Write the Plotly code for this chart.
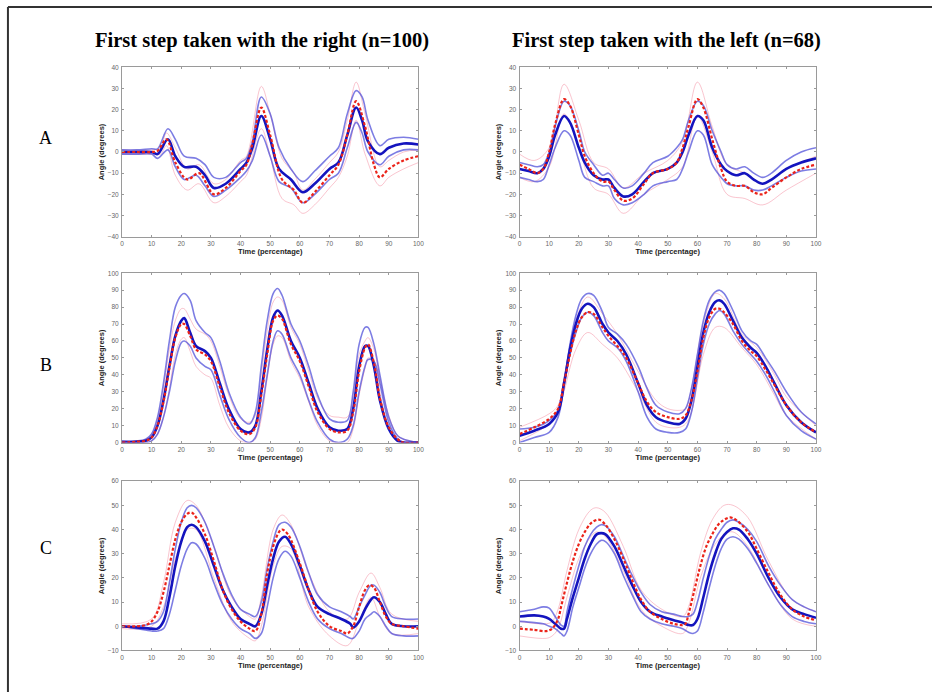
import plotly.graph_objects as go

# ---------------- DATA ----------------
col_titles = ["First step taken with the right (n=100)", "First step taken with the left (n=68)"]
row_labels = ["A", "B", "C"]
x_ticks = [0, 10, 20, 30, 40, 50, 60, 70, 80, 90, 100]
y_ranges = {"A": [-40, 40], "B": [0, 100], "C": [-10, 60]}

# Panel A, right-foot first
AR_x = [0, 5, 10, 12, 15.5, 18, 21, 25, 28, 31, 35, 40, 42, 44, 47, 50, 53, 57, 61, 65, 70, 73, 76, 79, 81, 83, 87, 90, 95, 100]
AR_blue_mean = [0, 0, 0, -1, 6, -2, -7, -7, -11, -17, -15, -8, -5, 2, 17, 6, -8, -13, -19, -15, -8, -5, 8, 21, 15, 5, -1, 2, 4, 3.5]
AR_blue_up = [1, 1, 1.5, 1.5, 11, 6, -2, -3, -6, -12, -12, -5, -3, 5, 26, 18, 2, -8, -14, -9, -2, 2, 18, 29, 26, 15, 3, 6, 7, 6]
AR_blue_lo = [-1, -1, -1, -3, 1, -7, -13, -11, -16, -21, -18, -12, -9, -4, 8, -2, -14, -17, -24, -20, -13, -10, 2, 14, 9, 0, -6, -2, 1, 1]
AR_red_x = [0, 5, 10, 12, 15, 18, 22, 26, 31, 35, 40, 42, 44, 47, 50, 54, 58, 61, 65, 70, 73, 76, 79, 82, 85, 87, 90, 95, 100]
AR_red_mean = [0, 0, 0, 0.5, 6, -5, -13, -10, -20, -17, -9, -6, 4, 21, 8, -13, -18, -24, -19, -11, -6, 8, 24, 12, -6, -12, -8, -4, -2]
AR_pink_x = [0, 10, 13, 15, 18, 22, 26, 31, 35, 40, 42, 47, 50, 54, 58, 61, 65, 70, 73, 76, 79, 82, 87, 90, 95, 100]
AR_red_up = [1, 1, 2, 9, 2, -8, -6, -15, -13, -4, -2, 31, 18, -3, -10, -18, -13, -5, 0, 15, 33, 18, -7, -4, 0, 1]
AR_red_lo = [-1, -1, -1, 3, -11, -18, -15, -24, -21, -14, -11, 11, -2, -22, -25, -29, -25, -17, -12, -2, 15, -1, -16, -12, -8, -5]

# Panel A, left-foot first
AL_x = [0, 3, 6, 8, 10, 12, 15, 17, 20, 22, 25, 28, 30, 32, 35, 38, 42, 45, 50, 53, 55, 57, 60, 62, 65, 68, 70, 73, 76, 79, 82, 85, 90, 95, 100]
AL_blue_mean = [-8, -9, -10, -8, -2, 8, 17, 14, 2, -5, -11, -13, -13, -17, -21, -20, -14, -10, -8, -5, 0, 8, 17, 15, 2, -6, -9, -11, -10, -13, -15, -13, -8, -5, -3]
AL_blue_up = [-5, -6, -7, -6, 0, 12, 24, 22, 10, 0, -6, -11, -10, -13, -17, -16, -10, -5, -2, 2, 6, 15, 24, 22, 10, 0, -6, -8, -7, -10, -12, -10, -4, 0, 2]
AL_blue_lo = [-12, -13, -14, -13, -6, 2, 10, 8, -4, -12, -14, -16, -16, -22, -25, -24, -20, -16, -14, -13, -8, 0, 10, 8, -6, -12, -15, -16, -16, -18, -18, -16, -12, -9, -8]
AL_red_x = AL_x
AL_red_mean = [-6, -8, -10, -8, 0, 13, 25, 22, 8, -2, -10, -14, -14, -18, -23, -22, -15, -10, -8, -5, 2, 12, 25, 21, 6, -8, -14, -16, -16, -19, -20, -17, -12, -8, -6]
AL_pink_x = [0, 5, 10, 15, 20, 25, 30, 35, 42, 50, 55, 60, 65, 70, 76, 82, 90, 100]
AL_red_up = [-1, -4, 2, 32, 15, -5, -8, -17, -10, -4, 5, 33, 12, -6, -10, -15, -8, -2]
AL_red_lo = [-12, -14, -7, 18, 2, -17, -20, -29, -20, -13, -7, 17, 0, -20, -22, -25, -18, -10]

# Panel B, right-foot first
BR_x = [0, 5, 8, 10, 12, 14, 16, 18, 20, 21, 23, 25, 28, 30, 33, 36, 40, 43, 45, 47, 49, 51, 52.5, 54, 57, 60, 63, 66, 70, 73, 76, 78, 80, 82, 83, 85, 87, 90, 93, 95, 100]
BR_blue_mean = [0, 0.5, 1, 3, 10, 25, 45, 63, 72, 73.5, 65, 57, 54, 50, 35, 20, 8, 6, 10, 30, 55, 74, 78, 75, 60, 50, 35, 20, 9, 7, 8, 20, 45, 57, 57, 45, 25, 8, 1, 0, 0]
BR_blue_up = [1, 1, 2, 5, 15, 35, 60, 80, 87, 88, 84, 72, 65, 62, 48, 30, 15, 11, 18, 45, 72, 88, 91, 87, 70, 60, 45, 28, 14, 12, 13, 30, 58, 68, 68, 58, 40, 15, 4, 2, 0]
BR_blue_lo = [0, 0, 0, 1, 5, 15, 30, 48, 59, 60, 57, 50, 45, 43, 28, 14, 3, 0, 3, 18, 40, 60, 66, 64, 50, 40, 25, 12, 2, 0, 2, 10, 30, 45, 49, 48, 35, 12, 2, 0, 0]
BR_red_x = BR_x
BR_red_mean = [0, 0.5, 1, 3, 10, 24, 44, 62, 70, 70, 63, 55, 52, 48, 33, 18, 7, 5, 9, 28, 52, 72, 75, 73, 58, 48, 33, 18, 8, 6, 7, 18, 42, 56, 58, 47, 26, 9, 2, 0, 0]
BR_pink_x = BR_x
BR_red_up = [1, 1, 2, 5, 14, 32, 55, 72, 79, 79, 73, 67, 64, 60, 45, 28, 14, 12, 16, 40, 66, 83, 86, 84, 68, 58, 42, 26, 16, 15, 15, 28, 52, 60, 62, 55, 38, 16, 4, 2, 0]
BR_red_lo = [0, 0, 0, 1, 5, 15, 32, 52, 61, 62, 54, 45, 40, 38, 22, 9, 1, 0, 2, 14, 38, 58, 63, 62, 48, 38, 24, 10, 1, 0, 0, 8, 28, 44, 50, 48, 30, 8, 1, 0, 0]

# Panel B, left-foot first
BL_x = [0, 5, 10, 13, 15, 17, 19, 21, 23, 25, 28, 30, 33, 36, 40, 43, 46, 50, 54, 56, 58, 60, 62, 64, 66, 67.5, 69, 72, 75, 78, 80, 83, 86, 90, 95, 100]
BL_blue_mean = [4, 7, 11, 18, 35, 55, 70, 79, 82, 80, 70, 65, 60, 52, 35, 22, 15, 12, 11, 14, 25, 45, 65, 77, 83, 84, 82, 72, 62, 56, 53, 45, 35, 22, 12, 6]
BL_blue_up = [8, 9, 13, 19, 35, 58, 75, 85, 88, 87, 77, 68, 64, 58, 45, 32, 22, 18, 17, 20, 32, 52, 72, 84, 89, 90, 88, 78, 66, 60, 58, 50, 42, 30, 18, 11]
BL_blue_lo = [0, 3, 6, 15, 33, 52, 65, 74, 77, 75, 65, 60, 56, 48, 30, 15, 8, 6, 6, 8, 18, 38, 58, 70, 76, 78, 76, 66, 58, 52, 48, 40, 30, 16, 7, 2]
BL_red_x = BL_x
BL_red_mean = [5, 9, 14, 20, 35, 52, 66, 74, 77, 76, 68, 63, 57, 50, 35, 24, 18, 15, 14, 16, 25, 42, 62, 74, 79, 79, 77, 70, 60, 54, 51, 43, 34, 22, 12, 6]
BL_pink_x = [0, 10, 13, 15, 19, 23, 28, 33, 40, 46, 50, 54, 56, 58, 62, 66, 69, 75, 80, 86, 90, 100]
BL_red_up = [9, 17, 22, 38, 72, 86, 76, 64, 42, 25, 20, 19, 20, 32, 70, 88, 85, 64, 56, 40, 27, 10]
BL_red_lo = [1, 11, 18, 30, 55, 65, 58, 50, 30, 12, 9, 9, 11, 18, 52, 68, 68, 56, 46, 28, 16, 2]

# Panel C, right-foot first
CR_x = [0, 5, 10, 12, 14, 16, 18, 20, 22, 23.5, 25, 28, 31, 34, 37, 40, 43, 45, 47, 49, 51, 53, 55, 57, 60, 63, 66, 70, 74, 77, 78, 80, 82, 84, 85, 87, 89, 91, 95, 100]
CR_blue_mean = [0, -0.5, -1, -1, 2, 12, 25, 35, 41, 42, 41, 35, 25, 15, 8, 3, 1, 0, 5, 17, 28, 35, 37, 34, 25, 15, 8, 5, 3, 1, -0.5, 2, 7, 11, 12, 10, 5, 1, 0, 0]
CR_blue_up = [0, 0, 1, 2, 6, 18, 32, 43, 49, 50, 49, 43, 33, 22, 13, 7, 5, 4, 10, 24, 35, 42, 43, 41, 33, 22, 13, 8, 6, 4, 3, 8, 13, 17, 17, 14, 8, 4, 3, 3]
CR_blue_lo = [0, -1, -2, -2, -1, 5, 15, 25, 32, 34.5, 34, 28, 18, 9, 3, -1, -3, -5, -3, 8, 20, 28, 31, 29, 20, 10, 3, -1, -3, -5, -5, -2, 3, 5, 6, 4, 0, -3, -4, -4]
CR_red_x = [0, 5, 8, 10, 12, 14, 16, 18, 20, 22, 23.5, 25, 28, 31, 34, 37, 40, 43, 45, 47, 49, 51, 53, 54, 56, 60, 63, 66, 70, 74, 76, 78, 80, 82, 83.5, 85, 87, 89, 91, 95, 100]
CR_red_mean = [0, 0, 0.5, 2, 6, 14, 25, 36, 43, 46.5, 47, 45, 38, 27, 15, 7, 2, -1, -2, 5, 22, 33, 39, 40, 38, 26, 15, 6, 0, -2, -3, 0, 8, 15, 17, 16, 10, 4, 1, 0, -1]
CR_pink_x = [0, 10, 14, 18, 22, 25, 31, 37, 43, 45, 47, 51, 54, 57, 63, 70, 76, 80, 84, 87, 91, 100]
CR_red_up = [1, 3, 18, 43, 52, 50, 33, 12, 4, 3, 12, 40, 46, 42, 22, 6, 3, 14, 22, 16, 5, 2]
CR_red_lo = [-1, 0, 8, 28, 40, 40, 20, 2, -5, -6, 0, 25, 33, 32, 8, -4, -8, 2, 12, 4, -3, -3]

# Panel C, left-foot first
CL_x = [0, 5, 8, 10, 12, 14, 15, 16, 18, 20, 22, 24, 26, 27.5, 29, 32, 35, 38, 41, 44, 48, 52, 55, 57, 58.5, 60, 62, 64, 66, 68, 70, 72, 74, 77, 80, 84, 88, 92, 96, 100]
CL_blue_mean = [4, 4.5, 4, 3, 1, -1, -1, 3, 12, 20, 28, 34, 38, 38.5, 38, 33, 25, 17, 10, 6, 4, 2.5, 1.5, 0.5, 0.5, 3, 12, 22, 30, 36, 39, 40.5, 40, 36, 30, 20, 12, 7, 5, 3.5]
CL_blue_up = [6, 7, 8, 7.5, 4, 0.5, 0, 6, 16, 25, 33, 38, 41, 42, 41.5, 37, 29, 21, 14, 9, 6, 5, 4, 4, 5, 10, 20, 29, 36, 40, 43, 44, 43, 40, 35, 25, 17, 11, 8, 6]
CL_blue_lo = [2, 1.5, 1, 0, -1, -3, -4, -2, 8, 16, 24, 30, 34, 35.5, 35, 30, 21, 13, 6, 3, 1, 0, -1, -2.5, -3, -2, 6, 16, 25, 32, 36, 37, 36, 32, 26, 17, 9, 4, 2, 1]
CL_red_x = [0, 5, 9, 11, 13, 14, 16, 18, 20, 22, 24, 26, 27, 29, 32, 35, 38, 41, 44, 48, 52, 55, 56, 57, 59, 61, 63, 65, 67, 69, 71, 73, 77, 80, 84, 88, 92, 96, 100]
CL_red_mean = [-1, -1.5, -2, -1, 3, 8, 18, 27, 34, 39, 42.5, 44, 44, 42, 36, 28, 19, 11, 6, 3, 1, 0.5, 1, 5, 15, 25, 33, 38, 42, 44, 45, 44, 39, 32, 22, 13, 7, 4, 2.5]
CL_pink_x = [0, 9, 11, 13, 16, 20, 24, 26, 29, 35, 41, 48, 55, 57, 61, 65, 69, 72, 77, 84, 92, 100]
CL_red_up = [2, 1, 2, 7, 23, 40, 48, 49, 47, 33, 15, 7, 4, 8, 30, 44, 50, 50, 45, 27, 11, 6]
CL_red_lo = [-4, -5, -4, -1, 12, 28, 37, 39, 37, 23, 7, 0, -3, 1, 20, 32, 38, 39, 33, 17, 3, 0]

# ---------------- FIGURE ----------------
W, H = 938, 695
col_px = [(121, 420), (522, 821)]
row_px = [(64, 235), (272, 443), (482, 653)]

panels = [
    ("A", 0, AR_x, AR_blue_mean, AR_blue_up, AR_blue_lo, AR_red_x, AR_red_mean, AR_pink_x, AR_red_up, AR_red_lo),
    ("A", 1, AL_x, AL_blue_mean, AL_blue_up, AL_blue_lo, AL_red_x, AL_red_mean, AL_pink_x, AL_red_up, AL_red_lo),
    ("B", 0, BR_x, BR_blue_mean, BR_blue_up, BR_blue_lo, BR_red_x, BR_red_mean, BR_pink_x, BR_red_up, BR_red_lo),
    ("B", 1, BL_x, BL_blue_mean, BL_blue_up, BL_blue_lo, BL_red_x, BL_red_mean, BL_pink_x, BL_red_up, BL_red_lo),
    ("C", 0, CR_x, CR_blue_mean, CR_blue_up, CR_blue_lo, CR_red_x, CR_red_mean, CR_pink_x, CR_red_up, CR_red_lo),
    ("C", 1, CL_x, CL_blue_mean, CL_blue_up, CL_blue_lo, CL_red_x, CL_red_mean, CL_pink_x, CL_red_up, CL_red_lo),
]

fig = go.Figure()
layout_axes = {}
tickfont = dict(family="Liberation Sans, Arial", size=6.5, color="#666666")
titlefont = dict(family="Liberation Sans, Arial", size=7.5, color="#222222")

for i, (row, col, bx, bm, bu, bl, rx, rm, px, ru, rl) in enumerate(panels):
    k = i + 1
    xa = "x" if k == 1 else f"x{k}"
    ya = "y" if k == 1 else f"y{k}"
    ri = row_labels.index(row)
    x0, x1 = col_px[col]
    y0, y1 = row_px[ri]
    common = dict(mode="lines", xaxis=xa, yaxis=ya, showlegend=False, hoverinfo="skip")
    spl = dict(shape="spline", smoothing=1.0)
    # red SD (faint pink)
    fig.add_trace(go.Scatter(x=px, y=ru, line=dict(color="rgba(245,140,160,0.5)", width=1, **spl), **common))
    fig.add_trace(go.Scatter(x=px, y=rl, line=dict(color="rgba(245,140,160,0.5)", width=1, **spl), **common))
    # blue SD
    fig.add_trace(go.Scatter(x=bx, y=bu, line=dict(color="rgba(70,70,215,0.7)", width=1.6, **spl), **common))
    fig.add_trace(go.Scatter(x=bx, y=bl, line=dict(color="rgba(70,70,215,0.7)", width=1.6, **spl), **common))
    # blue mean
    fig.add_trace(go.Scatter(x=bx, y=bm, line=dict(color="rgb(20,20,190)", width=2.6, **spl), **common))
    # red mean dashed
    fig.add_trace(go.Scatter(x=rx, y=rm, line=dict(color="rgb(235,35,25)", width=2.2, dash="3px,2px", **spl), **common))

    yr = y_ranges[row]
    xkey = "xaxis" if k == 1 else f"xaxis{k}"
    ykey = "yaxis" if k == 1 else f"yaxis{k}"
    layout_axes[xkey] = dict(
        domain=[x0 / W, x1 / W], anchor=ya, range=[0, 100], tickvals=x_ticks,
        showline=True, linecolor="#9a9a9a", linewidth=1, mirror="ticks",
        ticks="inside", ticklen=2, tickcolor="#9a9a9a", showgrid=False, zeroline=False,
        tickfont=tickfont, ticklabelstandoff=1,
        title=dict(text="<b>Time (percentage)</b>", font=titlefont, standoff=1),
    )
    layout_axes[ykey] = dict(
        domain=[1 - y1 / H, 1 - y0 / H], anchor=xa, range=yr,
        tickvals=list(range(yr[0], yr[1] + 1, 10)),
        showline=True, linecolor="#9a9a9a", linewidth=1, mirror="ticks",
        ticks="inside", ticklen=2, tickcolor="#9a9a9a", showgrid=False, zeroline=False,
        tickfont=tickfont, ticklabelstandoff=1,
        title=dict(text="<b>Angle (degrees)</b>", font=titlefont, standoff=2),
    )

annotations = []
for c, t in enumerate(col_titles):
    cx = [262, 670][c]
    annotations.append(dict(text=f"<b>{t}</b>", x=cx / W, y=1 - 37 / H, xref="paper", yref="paper",
                            showarrow=False, xanchor="center", yanchor="middle",
                            font=dict(family="Liberation Serif, Times New Roman", size=20.5, color="#000")))
for r, lab in enumerate(row_labels):
    cy = [135, 365, 550][r]
    annotations.append(dict(text=lab, x=44 / W, y=1 - cy / H, xref="paper", yref="paper",
                            showarrow=False, xanchor="center", yanchor="middle",
                            font=dict(family="Liberation Serif, Times New Roman", size=18, color="#000")))

shapes = [
    dict(type="line", xref="paper", yref="paper", x0=6 / W, x1=1, y0=1 - 3 / H, y1=1 - 3 / H,
         line=dict(color="#333333", width=2)),
    dict(type="line", xref="paper", yref="paper", x0=6 / W, x1=6 / W, y0=0, y1=1 - 3 / H,
         line=dict(color="#333333", width=2)),
]

fig.update_layout(
    width=W, height=H, margin=dict(l=0, r=0, t=0, b=0),
    paper_bgcolor="white", plot_bgcolor="white",
    annotations=annotations, shapes=shapes, **layout_axes,
)

fig.write_html("out.html", config={"displayModeBar": False, "staticPlot": True},
               post_script="document.body.style.margin='0px';document.body.style.overflow='hidden';")
